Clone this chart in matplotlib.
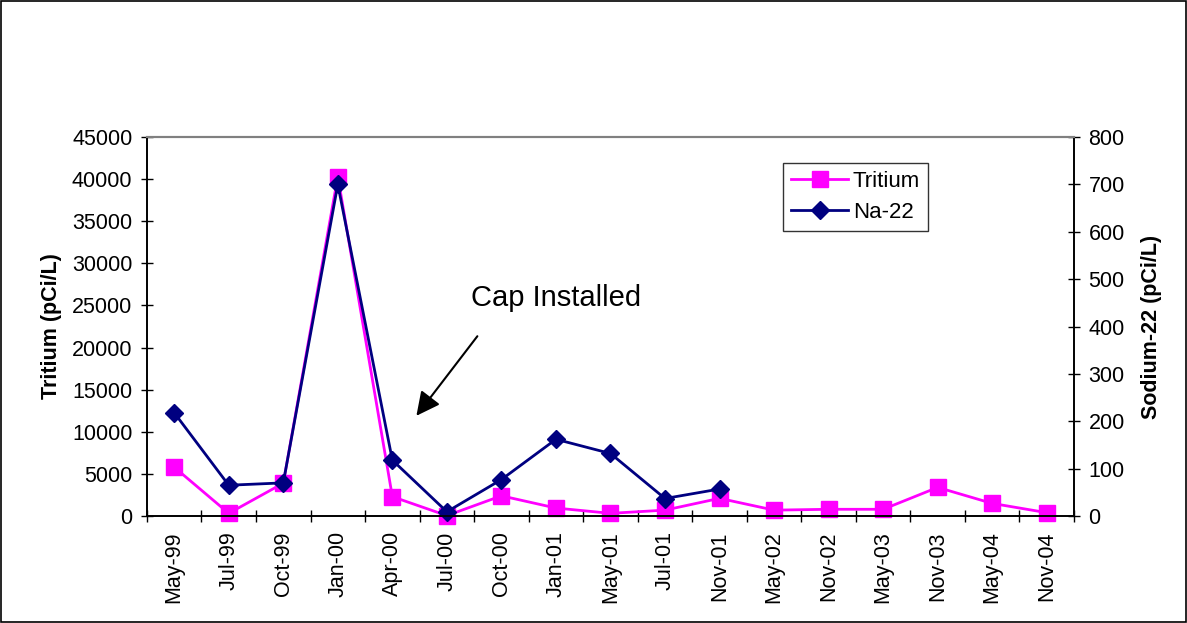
import numpy as np
import matplotlib
matplotlib.use("Agg")
import matplotlib.pyplot as plt
from matplotlib.patches import Rectangle

plt.rcParams['font.family'] = ['Liberation Sans', 'DejaVu Sans']

dates = ["May-99", "Jul-99", "Oct-99", "Jan-00", "Apr-00", "Jul-00", "Oct-00",
         "Jan-01", "May-01", "Jul-01", "Nov-01", "May-02", "Nov-02", "May-03",
         "Nov-03", "May-04", "Nov-04"]
tritium = [5800, 320, 3900, 40300, 2300, 50, 2400, 950, 320, 700, 2100,
           700, 800, 800, 3400, 1500, 400]
na22 = [218, 65, 70, 700, 118, 9, 77, 162, 132, 37, 57,
        np.nan, np.nan, np.nan, np.nan, np.nan, np.nan]

x = np.arange(len(dates))

fig = plt.figure(figsize=(11.87, 6.23), dpi=100)
ax = fig.add_axes([0.1238, 0.1717, 0.7810, 0.6084])
ax2 = ax.twinx()

ax.plot(x, tritium, color='#FF00FF', lw=2, marker='s', ms=11.5,
        label='Tritium', clip_on=False)
ax2.plot(x, na22, color='#000080', lw=2, marker='D', ms=9.5,
         label='Na-22', clip_on=False)

ax.set_xlim(-0.5, len(dates) - 0.5)
ax.set_ylim(0, 45000)
ax2.set_ylim(0, 800)
ax.set_yticks(np.arange(0, 45001, 5000))
ax2.set_yticks(np.arange(0, 801, 100))

ax.set_xticks(x)
ax.set_xticklabels(dates, rotation=90, fontsize=15.5)
ax.set_xticks(np.arange(-0.5, len(dates)), minor=True)
ax.tick_params(axis='x', which='major', length=0, pad=11)
ax.tick_params(axis='x', which='minor', direction='inout', length=9, width=1)
ax.tick_params(axis='y', direction='inout', length=9, width=1, labelsize=15.5, pad=6)
ax2.tick_params(axis='y', direction='inout', length=9, width=1, labelsize=15.5, pad=6)

for a in (ax, ax2):
    a.spines['top'].set_color('#808080')
    a.spines['top'].set_linewidth(1.5)
    for s in ('left', 'right', 'bottom'):
        a.spines[s].set_linewidth(1.2)

ax.set_ylabel('Tritium (pCi/L)', fontsize=15.5, fontweight='bold', labelpad=7)
ax2.set_ylabel('Sodium-22 (pCi/L)', fontsize=15.5, fontweight='bold', labelpad=12)

h1, l1 = ax.get_legend_handles_labels()
h2, l2 = ax2.get_legend_handles_labels()
leg = ax2.legend(h1 + h2, l1 + l2, loc='upper left', bbox_to_anchor=(0.686, 0.931),
                 fontsize=16, frameon=True, fancybox=False, edgecolor='black',
                 handlelength=2.6, borderpad=0.35, labelspacing=0.45, handletextpad=0.2,
                 borderaxespad=0)
leg.get_frame().set_linewidth(1.0)

ax2.annotate('', xy=(4.41, 11636 / 45000 * 800), xytext=(5.59, 21610 / 45000 * 800),
             arrowprops=dict(arrowstyle='-|>', color='black', lw=1.5, mutation_scale=36))
ax2.text(7.0, 25880 / 45000 * 800, 'Cap Installed', fontsize=21,
         ha='center', va='center')

fig.patches.append(Rectangle((0.001, 0.001), 0.998, 0.997, transform=fig.transFigure,
                             fill=False, edgecolor='black', lw=1.2))

fig.savefig('out.png', dpi=100)
